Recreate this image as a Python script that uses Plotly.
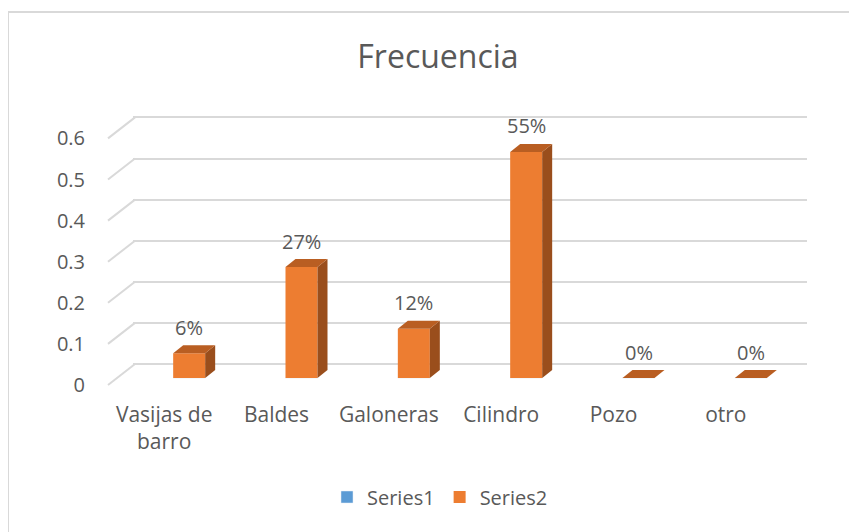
import plotly.graph_objects as go

# ---- data ----
categories = ["Vasijas de<br>barro", "Baldes", "Galoneras", "Cilindro", "Pozo", "otro"]
series1 = [0, 0, 0, 0, 0, 0]
series2 = [0.06, 0.27, 0.12, 0.55, 0.0, 0.0]
y_ticks = [0, 0.1, 0.2, 0.3, 0.4, 0.5, 0.6]
y_ticklabels = ["0", "0.1", "0.2", "0.3", "0.4", "0.5", "0.6"]
title_text = "Frecuencia"

# ---- geometry / style (pixel values in page coords; page has 8px body margin) ----
OFF = 8
W, H = 857 - OFF, 532 - OFF
def px(v):
    return v - OFF

L, R, T, B = px(108), px(807), px(100), px(400)   # plot area in figure px
S = 411.0                                           # px per unit on value axis
SHIFT = 25                                          # front-plane horizontal shift (px)
PW, PH = R - L, B - T
FONT = "Open Sans"
TXT = "#595959"
GRID = "#D9D9D9"
ORANGE = "#ED7D31"
ORANGE_TOP = "#B95E22"
ORANGE_SIDE = "#9A4E1C"
BLUE = "#5B9BD5"

def rng(zero_px):
    z = px(zero_px)
    return [-(B - z) / S, (z - T) / S]

bar_zero, back_zero, front_zero = 378, 364, 385
xs = list(range(len(categories)))
cat_px = (PW - SHIFT) / len(categories)
bw = 32 / cat_px
dx = 10 / cat_px
dy = 8 / S

fig = go.Figure()
fig.add_trace(go.Bar(x=xs, y=series1, name="Series1", marker_color=BLUE, width=bw,
                     xaxis="x", yaxis="y", hoverinfo="skip"))
fig.add_trace(go.Bar(x=xs, y=series2, name="Series2", marker=dict(color=ORANGE, line=dict(width=0)),
                     width=bw, xaxis="x", yaxis="y"))

# 3D faces
for i, v in zip(xs, series2):
    xr = i + bw / 2
    xl = i - bw / 2
    fig.add_trace(go.Scatter(x=[xr, xr + dx, xr + dx, xr, xr], y=[0, dy, v + dy, v, 0],
                             fill="toself", fillcolor=ORANGE_SIDE, mode="lines", line=dict(width=0),
                             showlegend=False, hoverinfo="skip", xaxis="x", yaxis="y"))
    fig.add_trace(go.Scatter(x=[xl, xr, xr + dx, xl + dx, xl], y=[v, v, v + dy, v + dy, v],
                             fill="toself", fillcolor=ORANGE_TOP, mode="lines", line=dict(width=0),
                             showlegend=False, hoverinfo="skip", xaxis="x", yaxis="y"))

# invisible trace for front axes
fig.add_trace(go.Scatter(x=xs, y=[0] * len(xs), mode="markers", marker=dict(opacity=0),
                         showlegend=False, hoverinfo="skip", xaxis="x2", yaxis="y3"))

# data labels
for i, v in zip(xs, series2):
    fig.add_annotation(x=i, y=v, xref="x", yref="y", text=f"{v:.0%}", showarrow=False,
                       yanchor="middle", yshift=26, font=dict(family=FONT, size=20, color=TXT))

# diagonal gridline stubs
off = (front_zero - back_zero) / S
for t in y_ticks:
    fig.add_shape(type="line", xref="paper", yref="y2", x0=0, x1=(SHIFT + 2) / PW,
                  y0=t - off, y1=t, line=dict(color=GRID, width=2))

# outer border
fig.add_shape(type="rect", xref="paper", yref="paper",
              x0=(px(8) - L) / PW, x1=(W + 20 - L) / PW,
              y0=(B - px(12)) / PH, y1=(B - H - 20) / PH,
              line=dict(color=GRID, width=2), fillcolor="rgba(0,0,0,0)", layer="below")

fig.update_layout(
    width=W, height=H,
    margin=dict(l=L, r=W - R, t=T, b=H - B, pad=0),
    paper_bgcolor="white", plot_bgcolor="rgba(0,0,0,0)",
    barmode="overlay",
    title=dict(text=title_text, x=px(438) / W, xanchor="center", y=1 - px(57) / H, yanchor="middle",
               font=dict(family=FONT, size=32, color=TXT)),
    xaxis=dict(domain=[SHIFT / PW, 1], range=[-0.5, len(xs) - 0.5], showticklabels=False,
               showgrid=False, zeroline=False, showline=False, anchor="y"),
    yaxis=dict(range=rng(bar_zero), visible=False, showgrid=False, zeroline=False),
    yaxis2=dict(range=rng(back_zero), overlaying="y", anchor="x", showgrid=True, gridcolor=GRID,
                gridwidth=2, tickvals=y_ticks, showticklabels=False, zeroline=False, showline=False),
    xaxis2=dict(domain=[0, 1 - SHIFT / PW], range=[-0.5, len(xs) - 0.5], anchor="y3",
                tickvals=xs, ticktext=categories, showgrid=False, zeroline=False, showline=False,
                ticks="", ticklabelstandoff=0,
                tickfont=dict(family=FONT, size=21, color=TXT)),
    yaxis3=dict(domain=[0, 1], range=rng(front_zero), anchor="x2", tickvals=y_ticks,
                ticktext=y_ticklabels, showgrid=False, zeroline=False, showline=False, ticks="",
                ticklabelstandoff=22, tickfont=dict(family=FONT, size=20, color=TXT)),
    legend=dict(orientation="h", x=(px(440) - L) / PW, xanchor="center", y=-(px(497) - B) / PH,
                yanchor="middle", font=dict(family=FONT, size=20, color=TXT),
                traceorder="normal", bgcolor="rgba(0,0,0,0)"),
    showlegend=True,
)

fig.write_html("out.html")
